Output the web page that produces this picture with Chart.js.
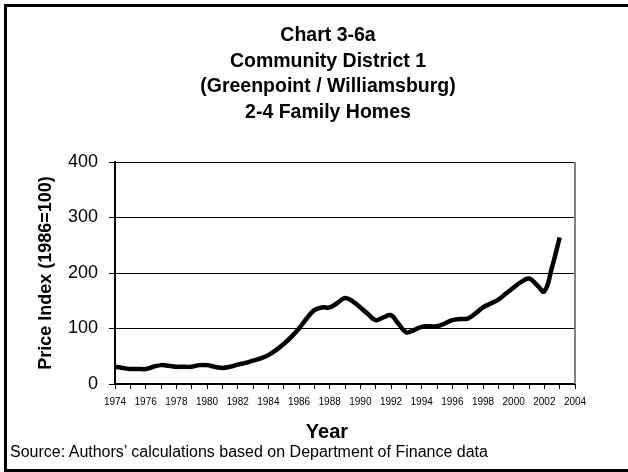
<!DOCTYPE html>
<html>
<head>
<meta charset="utf-8">
<script src="https://cdn.jsdelivr.net/npm/chart.js@4.4.1/dist/chart.umd.min.js"></script>
<style>
  html, body { margin: 0; padding: 0; background: #fff; overflow: hidden; }
  #page { position: relative; width: 628px; height: 472px; overflow: hidden; font-family: 'Liberation Sans', Arial, sans-serif; color: #000; }
  #frame { position: absolute; left: 4px; top: 4px; width: 660px; height: 462px; border: 3px solid #000; border-right: none; }
  #title { position: absolute; left: 0; width: 656px; top: 22px; text-align: center; font-weight: bold; font-size: 19.5px; line-height: 25.7px; }
  #xtitle { position: absolute; left: 0; width: 654px; top: 420px; line-height: 23px; text-align: center; font-weight: bold; font-size: 20px; }
  #source { position: absolute; left: 10px; top: 443px; line-height: 18px; font-size: 16px; }
  canvas { position: absolute; left: 0; top: 0; }
</style>
</head>
<body>
<div id="page">
  <canvas id="lineChart" width="628" height="472"></canvas>
  <div id="frame"></div>
  <div id="title">Chart 3-6a<br>Community District 1<br>(Greenpoint / Williamsburg)<br>2-4 Family Homes</div>
  <div id="xtitle">Year</div>
  <div id="source">Source: Authors’ calculations based on Department of Finance data</div>
</div>
<script>
const years = [
  1974, 1974.5, 1975, 1975.5, 1976, 1976.5, 1977, 1977.5, 1978, 1978.5,
  1979, 1979.5, 1980, 1980.5, 1981, 1981.5, 1982, 1982.5, 1983, 1983.5,
  1984, 1984.5, 1985, 1985.5, 1986, 1986.5, 1987, 1987.5, 1988, 1988.5,
  1989, 1989.5, 1990, 1990.5, 1991, 1991.5, 1992, 1992.5, 1993, 1993.5,
  1994, 1994.5, 1995, 1995.5, 1996, 1996.5, 1997, 1997.5, 1998, 1998.5,
  1999, 1999.5, 2000, 2000.5, 2001, 2001.5, 2002, 2002.5, 2003
]

const priceIndex = [
  31, 29, 27, 27, 27, 31, 34, 33, 31, 31,
  31, 34, 34, 31, 29, 31, 35, 38, 42, 46,
  52, 61, 72, 85, 100, 118, 133, 138, 138, 146,
  155, 149, 138, 126, 115, 120, 124, 108, 93, 97,
  103, 104, 104, 109, 115, 117, 118, 127, 138, 145,
  152, 163, 174, 184, 190, 179, 167, 210, 264
]

const yTicks = [0, 100, 200, 300, 400]
const xRange = [1974, 2004]

// grey right edge of the plot area
const plotBorder = {
  id: 'plotBorder',
  beforeDatasetsDraw(chart) {
    const a = chart.chartArea
    const ctx = chart.ctx
    ctx.save()
    ctx.strokeStyle = '#808080'
    ctx.lineWidth = 2
    ctx.beginPath()
    ctx.moveTo(a.right, a.top)
    ctx.lineTo(a.right, a.bottom)
    ctx.stroke()
    ctx.restore()
  }
}

const data = {
  datasets: [{
    label: 'Price Index',
    data: years.map((y, i) => ({ x: y, y: priceIndex[i] })),
    borderColor: '#000',
    borderWidth: 4.5,
    pointRadius: 0,
    tension: 0.4,
    fill: false
  }]
}

const config = {
  type: 'line',
  data: data,
  plugins: [plotBorder],
  options: {
    responsive: false,
    animation: false,
    layout: { padding: { top: 162, right: 53, left: 0, bottom: 0 } },
    plugins: { legend: { display: false }, tooltip: { enabled: false } },
    scales: {
      x: {
        type: 'linear',
        min: xRange[0],
        max: xRange[1],
        afterFit: s => { s.height = 88 },
        border: { color: '#000', width: 2 },
        grid: { drawOnChartArea: false, drawTicks: true, tickLength: 5, tickColor: '#000', tickWidth: 1 },
        ticks: {
          stepSize: 1,
          autoSkip: false,
          maxRotation: 0,
          padding: 7,
          color: '#000',
          font: { family: 'Liberation Sans', size: 10 },
          callback: v => (v % 2 === 0 ? String(v) : '')
        }
      },
      y: {
        min: yTicks[0],
        max: yTicks[yTicks.length - 1],
        afterFit: s => { s.width = 115 },
        afterBuildTicks: s => { s.ticks = yTicks.map(v => ({ value: v })) },
        border: { color: '#000', width: 2 },
        grid: { color: '#000', lineWidth: 1, tickLength: 6, tickColor: '#000' },
        ticks: {
          padding: 11,
          color: '#000',
          font: { family: 'Liberation Sans', size: 18 }
        },
        title: {
          display: true,
          text: 'Price Index (1986=100)',
          color: '#000',
          font: { family: 'Liberation Sans', size: 18, weight: 'bold' },
          padding: { top: 35, bottom: 0 }
        }
      }
    }
  }
}

const lineChart = new Chart(document.getElementById('lineChart'), config)
</script>
</body>
</html>
